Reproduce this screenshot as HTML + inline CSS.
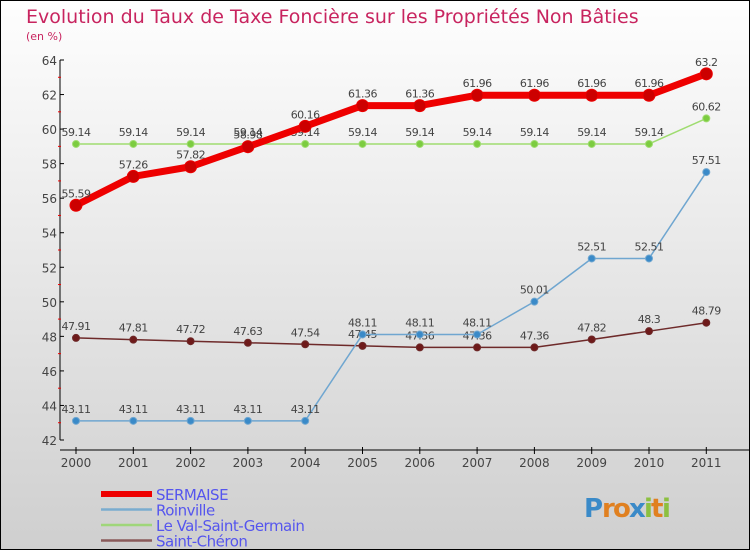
<!DOCTYPE html>
<html><head><meta charset="utf-8"><style>
body{margin:0}
#c{width:748px;height:548px;border:1px solid #000;background:linear-gradient(#fefefe,#cfcfcf);position:relative;font-family:"DejaVu Sans","Liberation Sans",sans-serif}
</style></head><body>
<div id="c">
<svg id="s" width="748" height="548"></svg>
</div>
<script>
const years=["2000","2001","2002","2003","2004","2005","2006","2007","2008","2009","2010","2011"];
const yTicks=[42,44,46,48,50,52,54,56,58,60,62,64];
const sermaise=[55.59,57.26,57.82,58.98,60.16,61.36,61.36,61.96,61.96,61.96,61.96,63.2];
const roinville=[43.11,43.11,43.11,43.11,43.11,48.11,48.11,48.11,50.01,52.51,52.51,57.51];
const valSaint=[59.14,59.14,59.14,59.14,59.14,59.14,59.14,59.14,59.14,59.14,59.14,60.62];
const saintCheron=[47.91,47.81,47.72,47.63,47.54,47.45,47.36,47.36,47.36,47.82,48.3,48.79];
const ns="http://www.w3.org/2000/svg",s=document.getElementById('s');
const X=i=>75+i*57.3, Y=v=>59+(64-v)*(380/22);
function el(t,a,p){const e=document.createElementNS(ns,t);for(const k in a)e.setAttribute(k,a[k]);(p||s).appendChild(e);return e;}
function tx(x,y,str,a){const e=el('text',Object.assign({x:x,y:y},a));e.textContent=str;return e;}
let t=tx(25,22,"Evolution du Taux de Taxe Foncière sur les Propriétés Non Bâties",{fill:"#c8245f","font-size":"19"});

t=tx(25,39,"(en %)",{fill:"#c8245f","font-size":"11"});

// axes
let ax=el('line',{x1:59,y1:59,x2:59,y2:439,stroke:"#000"});
ax=el('line',{x1:59,y1:449,x2:748,y2:449,stroke:"#000"});
yTicks.forEach(v=>{el('line',{x1:59,y1:Y(v),x2:63,y2:Y(v),stroke:"#000"});
 if(v<64)el('line',{x1:57,y1:Y(v+1),x2:60,y2:Y(v+1),stroke:"#e00"});
 const l=tx(56,Y(v)+5,String(v),{fill:"#444","font-size":"12","text-anchor":"end"});
 });
years.forEach((y,i)=>{el('line',{x1:X(i),y1:446,x2:X(i),y2:453,stroke:"#000"});
 const l=tx(X(i),466,y,{fill:"#444","font-size":"12","text-anchor":"middle"});
 });
function series(d,col,w,r,fill,name){
 const g=el('g',{});
 el('polyline',{points:d.map((v,i)=>X(i)+","+Y(v)).join(" "),fill:"none",stroke:col,"stroke-width":w,"stroke-linejoin":"round"},g);
 d.forEach((v,i)=>{const c=el('circle',{cx:X(i),cy:Y(v),r:r,fill:fill,stroke:col},g);
  
  const l=tx(X(i),Y(v)-8,String(v),{fill:"#444","font-size":"11","text-anchor":"middle","letter-spacing":"-0.5"},g);
  });
}
series(saintCheron,"#6e2a2a",1.5,3.5,"#6e1a1a","saint-cheron");
series(roinville,"#6fa6d0",1.5,3.5,"#3a8ac8","roinville");
series(valSaint,"#9fdc70",1.5,3.5,"#7ccc40","val-saint-germain");
series(sermaise,"#ee0000",7,6,"#cc0000","sermaise");
const leg=[["SERMAISE","#ee0000",6],["Roinville","#7aaccf",2.5],["Le Val-Saint-Germain","#9fd67a",2.5],["Saint-Chéron","#8a5a5a",2.5]];
leg.forEach((L,i)=>{const g=el('g',{});
 const y=493+i*15.5;el('line',{x1:100,y1:y,x2:151,y2:y,stroke:L[1],"stroke-width":L[2]},g);
 tx(155,y+6,L[0],{fill:"#5555ee","font-size":"15","letter-spacing":"-0.5"},g);});
const lg=el('g',{});
[["P","#3a8ac8"],["r","#e08020"],["o","#e08020"],["x","#3a8ac8"],["i","#8cc040"],["t","#e08020"],["i","#8cc040"]].forEach((c,i)=>{
 tx(583+[0,18,29,45,60,67,78][i],516,c[0],{fill:c[1],"font-size":"26","font-weight":"bold"},lg);});
</script>
</body></html>
